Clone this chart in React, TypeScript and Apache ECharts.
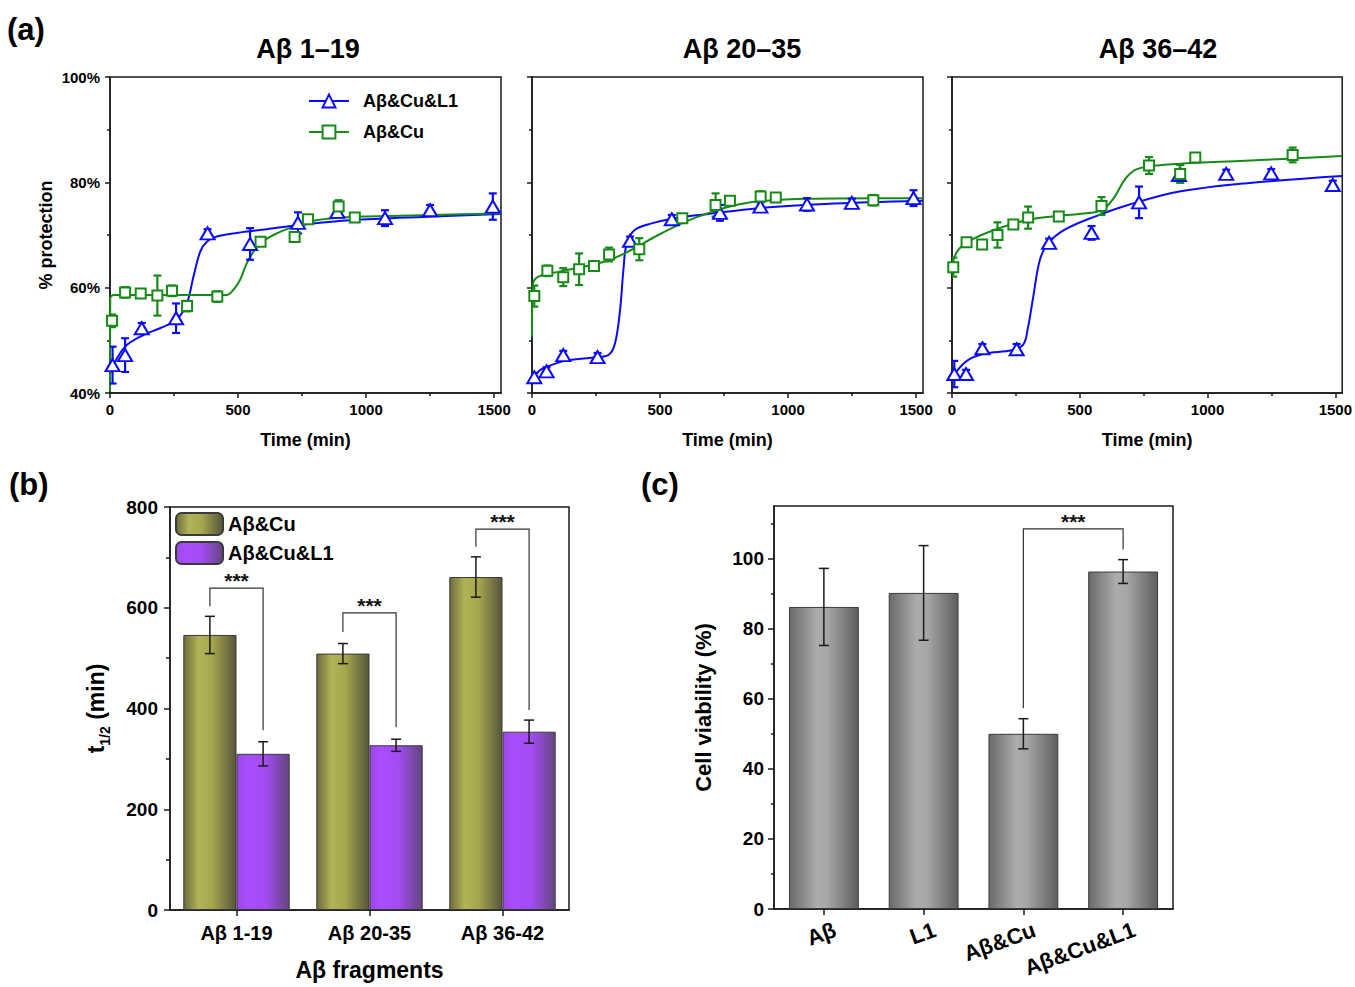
import React, { useEffect, useRef } from 'react';
import * as echarts from 'echarts';

const FONT = '"Liberation Sans", Arial, Helvetica, sans-serif';
const BLUE = '#0a0aff';
const GREEN = '#168a16';
const AXIS = '#1a1a1a';

// ---------- Panel (a) data: [time (min), % protection, error] ----------
const a1L1Points = [[10,45.3,3.5],[59,47.2,3.2],[124,52.3,1.0],[258,54.2,2.8],[381,70.3,0.8],[547,68.3,3.0],[734,72.3,2.0],[888,74.4,0.8],[1074,73.2,1.5],[1250,74.7,1.0],[1495,75.4,2.5]];
const a1CuPoints = [[8,53.7,1.2],[59,59.1,1.0],[120,58.9,0.6],[185,58.5,3.8],[242,59.4,1.0],[301,56.5,1.0],[419,58.3,1.0],[588,68.7,0.6],[721,69.6,0.8],[773,73.0,0.6],[893,75.4,1.2],[956,73.3,0.6]];
const a1L1Fit = [[0,43.5],[10,45.0],[59,48.8],[130,51.0],[195,52.3],[260,53.9],[300,57.0],[326,62.1],[352,66.8],[378,68.7],[417,69.7],[495,70.4],[612,71.1],[742,71.9],[938,72.8],[1263,73.5],[1527,74.0]];
const a1CuFit = [[0,40.3],[1,58.0],[15,58.6],[200,58.6],[455,58.6],[482,59.6],[508,61.5],[534,64.6],[560,66.8],[586,68.4],[638,70.0],[716,71.6],[794,72.7],[872,73.2],[1003,73.5],[1263,73.8],[1527,74.1]];

const a2L1Points = [[9,43.0,0.8],[57,44.1,0.8],[122,47.2,0.8],[256,46.8,0.8],[383,68.9,0.8],[546,73.0,0.8],[734,74.2,1.5],[892,75.4,0.8],[1074,75.8,1.2],[1249,76.1,0.8],[1490,77.0,1.5]];
const a2CuPoints = [[9,58.4,2.0],[60,63.2,1.0],[122,62.0,1.7],[184,63.5,3.0],[242,64.1,0.5],[301,66.3,1.3],[419,67.3,2.1],[587,73.2,0.5],[717,75.7,2.2],[773,76.5,0.6],[893,77.3,1.0],[952,77.1,0.6],[1333,76.6,1.0]];
const a2L1Fit = [[0,42.4],[25,44.1],[64,45.1],[129,46.1],[233,46.7],[298,47.2],[324,49.4],[344,55.8],[357,63.4],[370,68.4],[402,71.0],[467,72.2],[559,73.2],[689,74.0],[884,75.1],[1145,75.9],[1527,76.5]];
const a2CuFit = [[0,50.7],[3,60.5],[25,62.1],[103,63.0],[233,64.3],[311,65.4],[389,67.2],[493,70.0],[598,72.5],[702,74.4],[806,75.8],[910,76.5],[1079,76.9],[1340,77.0],[1527,77.0]];

const a3L1Points = [[9,43.6,2.5],[55,43.6,0.8],[119,48.5,0.8],[253,48.3,1.0],[380,68.5,0.8],[546,70.4,1.3],[732,76.2,3.0],[888,81.4,0.8],[1073,81.6,0.8],[1249,81.7,0.8],[1490,79.5,0.8]];
const a3CuPoints = [[5,63.9,1.8],[57,68.6,0.6],[118,68.2,0.6],[178,70.0,2.4],[240,72.0,0.8],[298,73.3,2.1],[418,73.5,0.8],[585,75.5,1.7],[771,83.2,1.6],[893,81.6,1.7],[952,84.7,0.6],[1333,85.2,1.4]];
const a3L1Fit = [[0,42.2],[18,44.1],[64,46.3],[129,47.5],[233,48.1],[279,49.2],[298,52.6],[318,58.3],[344,65.3],[376,68.4],[441,71.0],[559,73.5],[689,75.7],[884,78.2],[1145,79.8],[1527,81.2]];
const a3CuFit = [[0,64.6],[25,67.2],[77,69.1],[168,71.0],[298,72.9],[428,73.7],[559,74.3],[598,75.1],[637,77.3],[676,80.5],[715,82.3],[767,83.0],[884,83.5],[1145,84.1],[1527,85.0]];

const panelTitles = ['Aβ 1–19', 'Aβ 20–35', 'Aβ 36–42'];
const timeTicks = [0, 500, 1000, 1500];
const timeMinorTicks = [250, 750, 1250];

// ---------- Panel (b) data ----------
const bCats = ['Aβ 1-19', 'Aβ 20-35', 'Aβ 36-42'];
const bCu = [546, 509, 661];
const bCuErr = [37, 20, 40];
const bL1 = [310, 327, 354];
const bL1Err = [24, 12, 23];
// [category, bracket top, left leg bottom, right leg bottom]
const bBrackets = [[0, 639, 603, 357], [1, 590, 552, 363], [2, 756, 721, 397]];

// ---------- Panel (c) data ----------
const cCats = ['Aβ', 'L1', 'Aβ&Cu', 'Aβ&Cu&L1'];
const cVals = [86.2, 90.2, 50.0, 96.3];
const cErr = [11, 13.5, 4.3, 3.4];
// [left category, right category, bracket top, left leg bottom, right leg bottom]
const cBrackets = [[2, 3, 108.5, 57.3, 102.6]];
const cTicks = [0, 20, 40, 60, 80, 100];
const cMinorTicks = [10, 30, 50, 70, 90, 110];

const lineStyle = { color: AXIS, width: 1.5 };
const lbl = { color: '#000', fontWeight: 'bold' as const, fontFamily: FONT };

function errRender(color: string, cap: number, width: number, offsetFrac: number) {
  return (params: any, api: any) => {
    const x = api.value(0), y = api.value(1), e = api.value(2);
    const p1 = api.coord([x, y + e]);
    const p2 = api.coord([x, y - e]);
    const dx = offsetFrac ? offsetFrac * api.size([1, 0])[0] : 0;
    const xx = p1[0] + dx;
    const style = { stroke: color, lineWidth: width };
    return {
      type: 'group',
      children: [
        { type: 'line', shape: { x1: xx, y1: p1[1], x2: xx, y2: p2[1] }, style },
        { type: 'line', shape: { x1: xx - cap, y1: p1[1], x2: xx + cap, y2: p1[1] }, style },
        { type: 'line', shape: { x1: xx - cap, y1: p2[1], x2: xx + cap, y2: p2[1] }, style },
      ],
    };
  };
}

function bracketShape(xl: number, xr: number, top: number, lb: number, rb: number) {
  const style = { stroke: '#333', lineWidth: 1.2, fill: 'none' };
  return {
    type: 'group',
    children: [
      { type: 'polyline', shape: { points: [[xl, lb], [xl, top], [xr, top], [xr, rb]] }, style },
      {
        type: 'text',
        style: { text: '***', x: (xl + xr) / 2, y: top + 3, align: 'center', verticalAlign: 'bottom', fontSize: 21, fontWeight: 'bold', fontFamily: FONT, fill: '#111' },
      },
    ],
  };
}

export default function App() {
  const ref = useRef<HTMLDivElement>(null);

  useEffect(() => {
    if (!ref.current) return;
    const chart = echarts.init(ref.current, null, { renderer: 'svg' });

    const oliveGrad = new echarts.graphic.LinearGradient(0, 0, 1, 0, [
      { offset: 0, color: '#6c6c3e' },
      { offset: 0.28, color: '#b2b256' },
      { offset: 0.55, color: '#a6a64e' },
      { offset: 1, color: '#55553c' },
    ]);
    const purpleGrad = new echarts.graphic.LinearGradient(0, 0, 1, 0, [
      { offset: 0, color: '#9a48e6' },
      { offset: 0.2, color: '#aa4dff' },
      { offset: 0.55, color: '#a24cf2' },
      { offset: 1, color: '#62467c' },
    ]);
    const greyGrad = new echarts.graphic.LinearGradient(0, 0, 1, 0, [
      { offset: 0, color: '#6a6a6a' },
      { offset: 0.4, color: '#acacac' },
      { offset: 0.55, color: '#a6a6a6' },
      { offset: 1, color: '#5e5e5e' },
    ]);

    const aLefts = [110, 532, 952];
    const panels = [
      { l1: a1L1Points, cu: a1CuPoints, l1Fit: a1L1Fit, cuFit: a1CuFit },
      { l1: a2L1Points, cu: a2CuPoints, l1Fit: a2L1Fit, cuFit: a2CuFit },
      { l1: a3L1Points, cu: a3CuPoints, l1Fit: a3L1Fit, cuFit: a3CuFit },
    ];

    const grids: any[] = aLefts.map((l) => ({ left: l, top: 77, width: 391, height: 316, show: true, borderColor: AXIS, borderWidth: 1.5 }));
    grids.push({ left: 170, top: 507, width: 399, height: 403, show: true, borderColor: AXIS, borderWidth: 1.5 });
    grids.push({ left: 774, top: 506, width: 399, height: 403, show: true, borderColor: AXIS, borderWidth: 1.5 });

    const xAxes: any[] = [];
    const yAxes: any[] = [];
    for (let i = 0; i < 3; i++) {
      xAxes.push({
        type: 'value', gridIndex: i, min: 0, max: 1527,
        axisLine: { show: true, onZero: false, lineStyle },
        axisTick: { show: true, length: 5, customValues: timeTicks, lineStyle },
        axisLabel: { customValues: timeTicks, formatter: (v: number) => String(v), fontSize: 15, margin: 9, ...lbl },
        splitLine: { show: false },
        name: 'Time (min)', nameLocation: 'middle', nameGap: 38,
        nameTextStyle: { fontSize: 18, ...lbl },
      });
      yAxes.push({
        type: 'value', gridIndex: i, min: 40, max: 100, interval: 20,
        axisLine: { show: true, onZero: false, lineStyle },
        axisTick: { show: true, length: 5, lineStyle },
        minorTick: { show: true, splitNumber: 2, length: 3, lineStyle },
        axisLabel: { show: i === 0, formatter: '{value}%', fontSize: 15, margin: 10, ...lbl },
        splitLine: { show: false },
        minorSplitLine: { show: false },
        name: i === 0 ? '% protection' : '', nameLocation: 'middle', nameGap: 55,
        nameTextStyle: { fontSize: 18, ...lbl },
      });
    }
    // (b)
    xAxes.push({
      type: 'category', gridIndex: 3, data: bCats,
      axisLine: { show: true, onZero: false, lineStyle },
      axisTick: { show: true, alignWithLabel: true, length: 6, lineStyle },
      axisLabel: { fontSize: 20, margin: 13, ...lbl },
      name: 'Aβ fragments', nameLocation: 'middle', nameGap: 48,
      nameTextStyle: { fontSize: 23, ...lbl },
    });
    yAxes.push({
      type: 'value', gridIndex: 3, min: 0, max: 800, interval: 200,
      axisLine: { show: true, onZero: false, lineStyle },
      axisTick: { show: true, length: 6, lineStyle },
      minorTick: { show: true, splitNumber: 2, length: 4, lineStyle },
      axisLabel: { fontSize: 19, margin: 12, ...lbl },
      splitLine: { show: false },
      minorSplitLine: { show: false },
      name: '{a|t}{s|1/2}{a| (min)}', nameLocation: 'middle', nameGap: 58,
      nameTextStyle: {
        rich: {
          a: { fontSize: 23, lineHeight: 32, verticalAlign: 'middle', ...lbl },
          s: { fontSize: 14, lineHeight: 14, verticalAlign: 'bottom', ...lbl },
        },
      },
    });
    // (c)
    xAxes.push({
      type: 'category', gridIndex: 4, data: cCats,
      axisLine: { show: true, onZero: false, lineStyle },
      axisTick: { show: true, alignWithLabel: true, length: 6, lineStyle },
      axisLabel: { fontSize: 22, margin: 24, rotate: 20, padding: [0, -12, 0, 0], ...lbl },
    });
    yAxes.push({
      type: 'value', gridIndex: 4, min: 0, max: 115, interval: 20,
      axisLine: { show: true, onZero: false, lineStyle },
      axisTick: { show: true, length: 6, customValues: cTicks, lineStyle },
      axisLabel: { customValues: cTicks, formatter: (v: number) => String(v), fontSize: 19, margin: 10, ...lbl },
      splitLine: { show: false },
      name: 'Cell viability (%)', nameLocation: 'middle', nameGap: 60,
      nameTextStyle: { fontSize: 22, ...lbl },
    });
    // minor tick helper axes
    for (let i = 0; i < 3; i++) {
      xAxes.push({
        type: 'value', gridIndex: i, min: 0, max: 1527, position: 'bottom',
        axisLine: { show: false },
        axisTick: { show: true, length: 3, customValues: timeMinorTicks, lineStyle },
        axisLabel: { show: false },
        splitLine: { show: false },
      });
    }
    yAxes.push({
      type: 'value', gridIndex: 4, min: 0, max: 115, position: 'left',
      axisLine: { show: false },
      axisTick: { show: true, length: 3, customValues: cMinorTicks, lineStyle },
      axisLabel: { show: false },
      splitLine: { show: false },
    });

    const series: any[] = [];
    panels.forEach((p, i) => {
      series.push({
        type: 'line', name: 'Aβ&Cu&L1', xAxisIndex: i, yAxisIndex: i, data: p.l1Fit,
        smooth: 0.35, showSymbol: false, symbol: 'emptyTriangle', symbolSize: 14,
        lineStyle: { color: BLUE, width: 2 }, itemStyle: { color: BLUE }, z: 3,
      });
      series.push({
        type: 'line', name: 'Aβ&Cu', xAxisIndex: i, yAxisIndex: i, data: p.cuFit,
        smooth: 0.35, showSymbol: false, symbol: 'emptyRect', symbolSize: 10,
        lineStyle: { color: GREEN, width: 2 }, itemStyle: { color: GREEN }, z: 3,
      });
      series.push({
        type: 'custom', name: 'errL1' + i, xAxisIndex: i, yAxisIndex: i, data: p.l1,
        renderItem: errRender(BLUE, 4, 2.2, 0), z: 4, clip: true,
      });
      series.push({
        type: 'custom', name: 'errCu' + i, xAxisIndex: i, yAxisIndex: i, data: p.cu,
        renderItem: errRender(GREEN, 4, 2.2, 0), z: 4, clip: true,
      });
      series.push({
        type: 'scatter', name: 'ptsL1' + i, xAxisIndex: i, yAxisIndex: i,
        data: p.l1.map((d) => [d[0], d[1]]),
        symbol: 'emptyTriangle', symbolSize: [14, 12],
        itemStyle: { color: BLUE, borderWidth: 2.2, opacity: 1 }, z: 5,
      });
      series.push({
        type: 'scatter', name: 'ptsCu' + i, xAxisIndex: i, yAxisIndex: i,
        data: p.cu.map((d) => [d[0], d[1]]),
        symbol: 'emptyRect', symbolSize: [10, 10],
        itemStyle: { color: GREEN, borderWidth: 2.2, opacity: 1 }, z: 5,
      });
    });

    // (b) bars
    series.push({
      type: 'bar', name: 'b:Aβ&Cu', xAxisIndex: 3, yAxisIndex: 3, data: bCu,
      barGap: '0%', barCategoryGap: '20%',
      itemStyle: { color: oliveGrad, borderColor: '#3a3a3a', borderWidth: 1 },
    });
    series.push({
      type: 'bar', name: 'b:Aβ&Cu&L1', xAxisIndex: 3, yAxisIndex: 3, data: bL1,
      barGap: '0%', barCategoryGap: '20%',
      itemStyle: { color: purpleGrad, borderColor: '#3a3a3a', borderWidth: 1 },
    });
    series.push({
      type: 'custom', name: 'bErrCu', xAxisIndex: 3, yAxisIndex: 3,
      data: bCu.map((v, i) => [i, v, bCuErr[i]]),
      renderItem: errRender('#1a1a1a', 5, 1.5, -0.2), z: 5,
    });
    series.push({
      type: 'custom', name: 'bErrL1', xAxisIndex: 3, yAxisIndex: 3,
      data: bL1.map((v, i) => [i, v, bL1Err[i]]),
      renderItem: errRender('#1a1a1a', 5, 1.5, 0.2), z: 5,
    });
    series.push({
      type: 'custom', name: 'bSig', xAxisIndex: 3, yAxisIndex: 3, data: bBrackets,
      clip: false, z: 6,
      renderItem: (params: any, api: any) => {
        const cat = api.value(0);
        const bw = api.size([1, 0])[0];
        const top = api.coord([cat, api.value(1)]);
        const lb = api.coord([cat, api.value(2)]);
        const rb = api.coord([cat, api.value(3)]);
        return bracketShape(top[0] - 0.2 * bw, top[0] + 0.2 * bw, top[1], lb[1], rb[1]);
      },
    });

    // (c) bars
    series.push({
      type: 'bar', name: 'viability', xAxisIndex: 4, yAxisIndex: 4, data: cVals,
      barCategoryGap: '30%',
      itemStyle: { color: greyGrad, borderColor: '#3a3a3a', borderWidth: 1 },
    });
    series.push({
      type: 'custom', name: 'cErr', xAxisIndex: 4, yAxisIndex: 4,
      data: cVals.map((v, i) => [i, v, cErr[i]]),
      renderItem: errRender('#1a1a1a', 5, 1.5, 0), z: 5,
    });
    series.push({
      type: 'custom', name: 'cSig', xAxisIndex: 4, yAxisIndex: 4, data: cBrackets,
      clip: false, z: 6,
      renderItem: (params: any, api: any) => {
        const top = api.coord([api.value(0), api.value(2)]);
        const lb = api.coord([api.value(0), api.value(3)]);
        const right = api.coord([api.value(1), api.value(4)]);
        return bracketShape(top[0], right[0], top[1], lb[1], right[1]);
      },
    });

    const titleStyle = { fontSize: 31, fontWeight: 'bold' as const, color: '#000', fontFamily: FONT };
    const subStyle = { fontSize: 27, fontWeight: 'bold' as const, color: '#000', fontFamily: FONT };
    const panelCenters = [308, 742, 1158];

    const option: any = {
      animation: false,
      backgroundColor: '#fff',
      title: [
        { text: '(a)', left: 7, top: 14, padding: 0, textStyle: titleStyle },
        { text: '(b)', left: 9, top: 469, padding: 0, textStyle: titleStyle },
        { text: '(c)', left: 641, top: 469, padding: 0, textStyle: titleStyle },
        ...panelTitles.map((t, i) => ({ text: t, left: panelCenters[i], textAlign: 'center', top: 35, padding: 0, textStyle: subStyle })),
      ],
      legend: [
        {
          data: ['Aβ&Cu&L1', 'Aβ&Cu'], left: 308, top: 92, orient: 'vertical',
          itemWidth: 40, itemHeight: 16, itemGap: 13, selectedMode: false, padding: 0,
          textStyle: { fontSize: 18, padding: [0, 0, 0, 9], ...lbl },
        },
        {
          data: ['b:Aβ&Cu', 'b:Aβ&Cu&L1'], left: 175, top: 512, orient: 'vertical',
          itemWidth: 47, itemHeight: 22, itemGap: 5, selectedMode: false, padding: 0,
          formatter: (n: string) => n.slice(2),
          textStyle: { fontSize: 20, ...lbl },
        },
      ],
      grid: grids,
      xAxis: xAxes,
      yAxis: yAxes,
      series,
    };

    chart.setOption(option);
    return () => chart.dispose();
  }, []);

  return (
    <div
      ref={ref}
      style={{ position: 'absolute', left: 0, top: 0, width: 1355, height: 987, background: '#fff' }}
    />
  );
}
